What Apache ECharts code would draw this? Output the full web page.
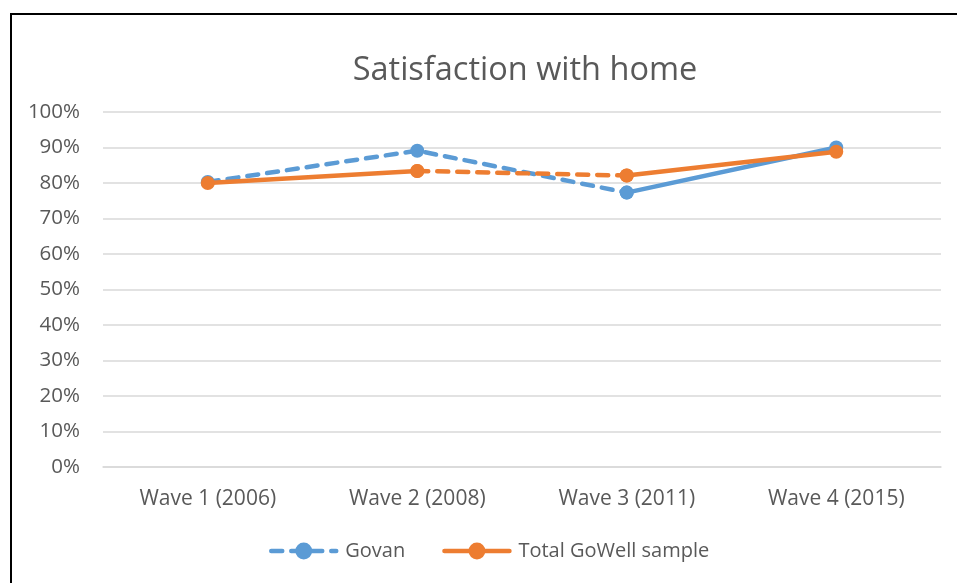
<!DOCTYPE html>
<html><head><meta charset="utf-8">
<script src="https://cdn.jsdelivr.net/npm/echarts@6/dist/echarts.min.js"></script>
<style>html,body{margin:0;padding:0;background:#fff}#c{width:957px;height:583px}</style>
</head><body><div id="c"></div>
<script>
const categories = ['Wave 1 (2006)', 'Wave 2 (2008)', 'Wave 3 (2011)', 'Wave 4 (2015)'];
const govan = [80.3, 89.1, 77.3, 90.0];
const total = [80.0, 83.4, 82.1, 88.8];
const govanSegTypes = ['dashed', 'dashed', 'solid'];
const totalSegTypes = ['solid', 'dashed', 'solid'];
const yTicks = [0, 10, 20, 30, 40, 50, 60, 70, 80, 90, 100];

const BLUE = '#5B9BD5', ORANGE = '#ED7D31', TXT = '#595959', FONT = 'Open Sans';
const DASH = [11, 9];

function segSeries(name, vals, types, color, z) {
  const out = [];
  let i = 0;
  while (i < types.length) {
    let j = i;
    while (j + 1 < types.length && types[j + 1] === types[i]) j++;
    const data = vals.map((v, k) => (k >= i && k <= j + 1) ? v : null);
    out.push({ type: types[i], data });
    i = j + 1;
  }
  return out.map(s => ({
    name, type: 'line', data: s.data, z,
    symbol: 'circle', symbolSize: 14, showSymbol: true,
    connectNulls: false,
    itemStyle: { color },
    lineStyle: { color, width: 4.5, type: s.type === 'dashed' ? DASH : 'solid', cap: 'round' },
    emphasis: { disabled: true },
    animation: false
  }));
}

let gSeries = segSeries('Govan', govan, govanSegTypes, BLUE, 2);
let tSeries = segSeries('Total GoWell sample', total, totalSegTypes, ORANGE, 3);
gSeries.sort((a, b) => (a.lineStyle.type === 'solid') - (b.lineStyle.type === 'solid'));
tSeries.sort((a, b) => (b.lineStyle.type === 'solid') - (a.lineStyle.type === 'solid'));

const chart = echarts.init(document.getElementById('c'));
chart.setOption({
  animation: false,
  title: {
    text: 'Satisfaction with home', left: 520, top: 49, textAlign: 'center',
    textStyle: { fontFamily: FONT, fontSize: 32.5, fontWeight: 'normal', color: TXT }
  },
  graphic: [{
    type: 'rect', shape: { x: 11, y: 14, width: 1200, height: 800 },
    style: { fill: 'none', stroke: '#000', lineWidth: 2 }, silent: true, z: 100
  }],
  legend: {
    data: ['Govan', 'Total GoWell sample'],
    left: 264, top: 536, itemWidth: 65, itemHeight: 21, itemGap: 37,
    lineStyle: { width: 4.5 },
    textStyle: { fontFamily: FONT, fontSize: 20, color: TXT, padding: [0, 0, 0, 4] }
  },
  grid: { left: 103, right: 16, top: 112, bottom: 116, containLabel: false },
  xAxis: {
    type: 'category', data: categories, boundaryGap: true,
    axisLine: { show: true, lineStyle: { color: '#D9D9D9', width: 1.5 } },
    axisTick: { show: false },
    axisLabel: { margin: 22, fontFamily: FONT, fontSize: 21, color: TXT }
  },
  yAxis: {
    type: 'value', min: yTicks[0], max: yTicks[yTicks.length - 1], interval: 10,
    axisLine: { show: false }, axisTick: { show: false },
    splitLine: { lineStyle: { color: '#D9D9D9', width: 1.5 } },
    axisLabel: { margin: 23, fontFamily: FONT, fontSize: 20.5, color: TXT, formatter: v => v + '%' }
  },
  series: [...gSeries, ...tSeries]
});
</script></body></html>
